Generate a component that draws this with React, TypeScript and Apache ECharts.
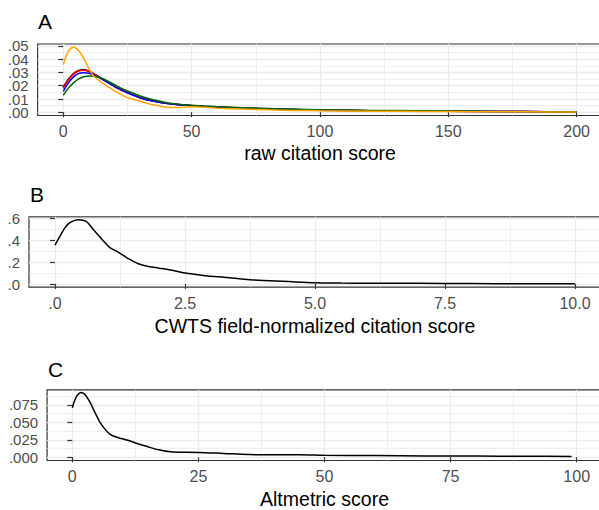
import React, { useEffect, useRef } from "react";
import * as echarts from "echarts";

// Panel A: raw citation score densities
const A_X = [0, 2, 4, 6, 8, 10, 12, 15, 18, 21, 25, 30, 35, 40, 45, 50, 55, 60, 70, 80, 90, 100, 120, 140, 160, 180, 200];
const A_BLACK = [0.019, 0.025, 0.0292, 0.0315, 0.032, 0.031, 0.029, 0.0255, 0.022, 0.0185, 0.0148, 0.011, 0.0085, 0.0068, 0.0058, 0.0051, 0.0045, 0.004, 0.0032, 0.0026, 0.0021, 0.0017, 0.0012, 0.0009, 0.0007, 0.0005, 0.0004];
const A_RED = [0.018, 0.0243, 0.0288, 0.0311, 0.0316, 0.0307, 0.0287, 0.0253, 0.0218, 0.0183, 0.0146, 0.0108, 0.0084, 0.0067, 0.0057, 0.005, 0.0044, 0.0039, 0.0031, 0.0025, 0.002, 0.0016, 0.0011, 0.0008, 0.0006, 0.0005, 0.0004];
const A_BLUE = [0.0158, 0.0222, 0.0267, 0.0292, 0.0299, 0.0294, 0.028, 0.025, 0.0216, 0.0184, 0.0147, 0.011, 0.0085, 0.0068, 0.0057, 0.005, 0.0044, 0.0039, 0.0031, 0.0025, 0.002, 0.0016, 0.0011, 0.0008, 0.0006, 0.0005, 0.0003];
const A_GREEN = [0.0128, 0.0182, 0.0222, 0.0252, 0.0268, 0.0274, 0.0271, 0.0256, 0.0228, 0.0197, 0.016, 0.0123, 0.0094, 0.0074, 0.0061, 0.0053, 0.0047, 0.0042, 0.0034, 0.0028, 0.0023, 0.0019, 0.0014, 0.0011, 0.0008, 0.0005, 0.0003];
const A_ORANGE = [0.036, 0.046, 0.049, 0.0465, 0.0405, 0.033, 0.027, 0.0225, 0.0185, 0.015, 0.011, 0.0083, 0.0056, 0.0038, 0.0035, 0.0041, 0.0037, 0.0031, 0.0024, 0.0018, 0.0014, 0.0011, 0.0008, 0.0006, 0.0004, 0.0003, 0.0002];

// Panel B: CWTS field-normalized citation score density
const B_X = [0, 0.1, 0.2, 0.3, 0.45, 0.6, 0.75, 0.9, 1.05, 1.2, 1.4, 1.6, 1.8, 2.0, 2.25, 2.5, 2.75, 3.0, 3.25, 3.5, 3.75, 4.0, 4.5, 5.0, 5.5, 6, 7, 8, 9, 10];
const B_Y = [0.356, 0.44, 0.52, 0.565, 0.588, 0.572, 0.49, 0.41, 0.335, 0.295, 0.235, 0.185, 0.16, 0.145, 0.125, 0.1, 0.085, 0.07, 0.062, 0.05, 0.04, 0.033, 0.022, 0.012, 0.009, 0.007, 0.006, 0.004, 0.003, 0.002];

// Panel C: Altmetric score density
const C_X = [0, 0.5, 1, 1.7, 2.5, 3.5, 4.5, 5.5, 6.5, 7.5, 9, 11, 13, 15, 17, 20, 25, 30, 35, 40, 45, 50, 60, 70, 80, 90, 99];
const C_Y = [0.071, 0.082, 0.089, 0.093, 0.09, 0.079, 0.064, 0.05, 0.04, 0.033, 0.0283, 0.0245, 0.0195, 0.015, 0.011, 0.0075, 0.007, 0.0055, 0.004, 0.0035, 0.0037, 0.003, 0.0025, 0.002, 0.0018, 0.0015, 0.0012];

// Tick values
const A_XMAJ = [0, 50, 100, 150, 200];
const A_XMIN = [25, 75, 125, 175];
const A_YMAJ = [0, 0.01, 0.02, 0.03, 0.04, 0.05];
const A_YMIN = [0.005, 0.015, 0.025, 0.035, 0.045];
const B_XMAJ = [0, 2.5, 5, 7.5, 10];
const B_XMIN = [1.25, 3.75, 6.25, 8.75];
const B_YMAJ = [0, 0.2, 0.4, 0.6];
const B_YMIN = [0.1, 0.3, 0.5];
const C_XMAJ = [0, 25, 50, 75, 100];
const C_XMIN = [12.5, 37.5, 62.5, 87.5];
const C_YMAJ = [0, 0.025, 0.05, 0.075];
const C_YMIN = [0.0125, 0.0375, 0.0625, 0.0875];

const FONT = "Liberation Sans, Arial, sans-serif";

const stripZero = (d: number) => (v: number) => v.toFixed(d).replace(/^0\./, ".");

function pairs(xs: number[], ys: number[]) {
  return xs.map((x, i) => [x, ys[i]]);
}

export default function App() {
  const ref = useRef<HTMLDivElement>(null);
  useEffect(() => {
    document.body.style.margin = "0";
    const chart = echarts.init(ref.current!, undefined, { renderer: "svg" });

    const panels = [
      { left: 37.6, width: 564.7, top: 44, height: 71.5, xmin: -10, xmax: 210, ymin: -0.00245, ymax: 0.0515,
        xmaj: A_XMAJ, xminr: A_XMIN, ymaj: A_YMAJ, yminr: A_YMIN, xfmt: (v: number) => String(v), yfmt: stripZero(2) },
      { left: 29, width: 572, top: 216.8, height: 70.4, xmin: -0.5, xmax: 10.5, ymin: -0.029, ymax: 0.614,
        xmaj: B_XMAJ, xminr: B_XMIN, ymaj: B_YMAJ, yminr: B_YMIN, xfmt: stripZero(1), yfmt: stripZero(1) },
      { left: 47.1, width: 554.8, top: 389.9, height: 70.6, xmin: -5, xmax: 105, ymin: -0.0046, ymax: 0.0966,
        xmaj: C_XMAJ, xminr: C_XMIN, ymaj: C_YMAJ, yminr: C_YMIN, xfmt: (v: number) => String(v), yfmt: stripZero(3) },
    ];

    const grid: any[] = [];
    const xAxis: any[] = [];
    const yAxis: any[] = [];
    const extraY: any[] = [];
    const yLabel = { color: "#4D4D4D", fontSize: 15, fontFamily: FONT, showMinLabel: true, showMaxLabel: true, hideOverlap: false, margin: 9 };
    panels.forEach((p, i) => {
      grid.push({
        left: p.left, width: p.width, top: p.top, height: p.height,
        show: true, borderColor: "#333333", borderWidth: 1.2, backgroundColor: "#ffffff",
        containLabel: false, outerBoundsMode: "none",
      });
      const xLabel = { color: "#4D4D4D", fontSize: 16, fontFamily: FONT, showMinLabel: true, showMaxLabel: true, hideOverlap: false };
      xAxis.push({
        type: "value", gridIndex: i, min: p.xmin, max: p.xmax, position: "bottom",
        axisLine: { show: false },
        axisTick: { show: true, length: 5, lineStyle: { color: "#333333", width: 1.2 }, customValues: p.xmaj },
        axisLabel: { ...xLabel, margin: 8, customValues: p.xmaj, formatter: p.xfmt },
        splitLine: { show: true, lineStyle: { color: "#EBEBEB", width: 1.4 } },
      });
      xAxis.push({
        type: "value", gridIndex: i, min: p.xmin, max: p.xmax, position: "top",
        axisLine: { show: false },
        axisTick: { show: false, customValues: p.xminr },
        axisLabel: { show: false },
        splitLine: { show: true, lineStyle: { color: "#EBEBEB", width: 0.8 } },
      });
      // labels are split over two axes so that tightly packed labels are all shown
      const evenLabels = p.ymaj.filter((_, k) => k % 2 === 0);
      const oddLabels = p.ymaj.filter((_, k) => k % 2 === 1);
      yAxis.push({
        type: "value", gridIndex: i, min: p.ymin, max: p.ymax, position: "left",
        axisLine: { show: false },
        axisTick: { show: true, length: 5, lineStyle: { color: "#333333", width: 1.2 }, customValues: p.ymaj },
        axisLabel: { ...yLabel, customValues: evenLabels, formatter: p.yfmt },
        splitLine: { show: true, lineStyle: { color: "#EBEBEB", width: 1.4 } },
      });
      yAxis.push({
        type: "value", gridIndex: i, min: p.ymin, max: p.ymax, position: "right",
        axisLine: { show: false },
        axisTick: { show: false, customValues: p.yminr },
        axisLabel: { show: false },
        splitLine: { show: true, lineStyle: { color: "#EBEBEB", width: 0.8 } },
      });
      extraY.push({
        type: "value", gridIndex: i, min: p.ymin, max: p.ymax, position: "left", offset: 0,
        axisLine: { show: false },
        axisTick: { show: false, customValues: p.ymaj },
        axisLabel: { ...yLabel, customValues: oddLabels, formatter: p.yfmt },
        splitLine: { show: false },
      });
    });

    const line = (data: number[][], color: string, gi: number) => ({
      type: "line", data, xAxisIndex: gi * 2, yAxisIndex: gi * 2, showSymbol: false,
      smooth: 0.3, lineStyle: { color, width: 1.5 }, itemStyle: { color }, silent: true, clip: true,
    });

    const series = [
      line(pairs(A_X, A_BLACK), "#000000", 0),
      line(pairs(A_X, A_RED), "#FF0000", 0),
      line(pairs(A_X, A_BLUE), "#0000FF", 0),
      line(pairs(A_X, A_GREEN), "#006400", 0),
      line(pairs(A_X, A_ORANGE), "#FFA500", 0),
      line(pairs(B_X, B_Y), "#000000", 1),
      line(pairs(C_X, C_Y), "#000000", 2),
    ];

    const txt = (x: number, y: number, text: string, size: number, align: string) => ({
      type: "text", x, y, silent: true,
      style: { text, fontSize: size, fontFamily: FONT, fill: "#000000", align, verticalAlign: "middle" },
    });

    chart.setOption({
      animation: false,
      backgroundColor: "#ffffff",
      grid, xAxis, yAxis: [...yAxis, ...extraY], series,
      graphic: [
        txt(38, 21.5, "A", 21, "left"),
        txt(30, 194.5, "B", 21, "left"),
        txt(48, 369.5, "C", 21, "left"),
        txt(320, 153, "raw citation score", 19.5, "center"),
        txt(315, 326, "CWTS field-normalized citation score", 19.5, "center"),
        txt(324.5, 499, "Altmetric score", 19.5, "center"),
      ],
    });
    return () => chart.dispose();
  }, []);
  return <div ref={ref} style={{ width: 599, height: 510 }} />;
}
